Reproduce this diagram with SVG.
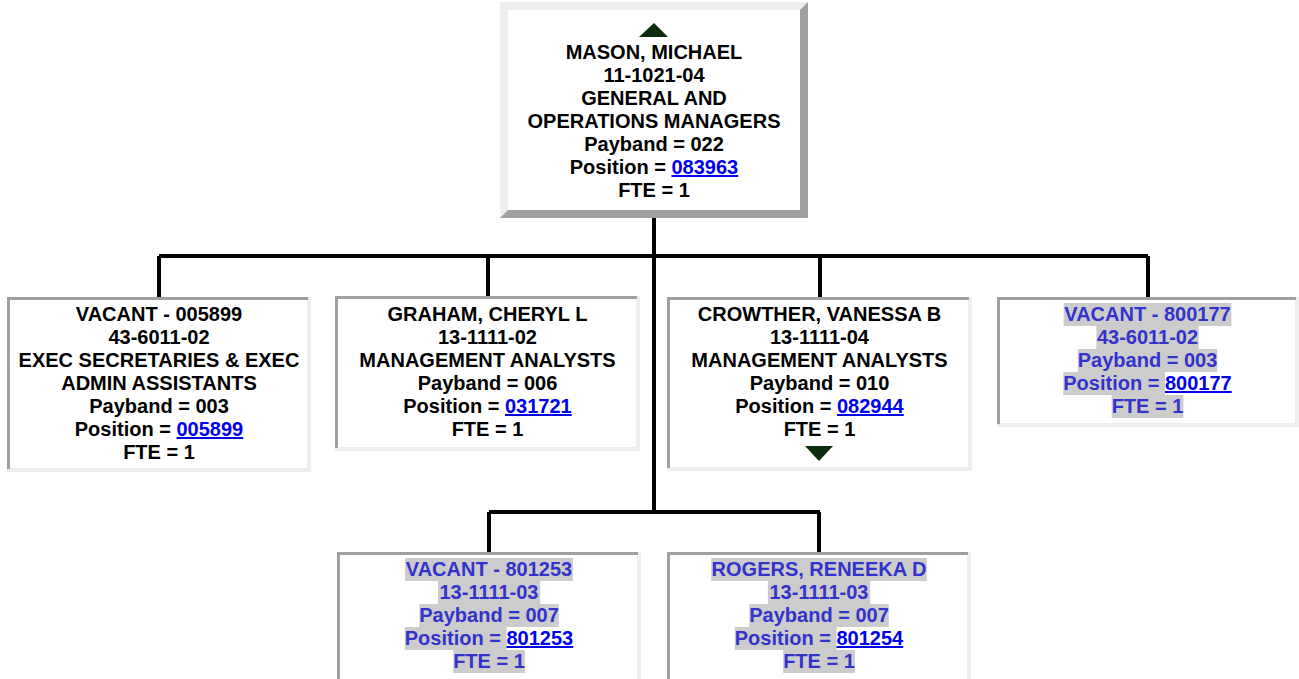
<svg xmlns="http://www.w3.org/2000/svg" width="1299" height="679" viewBox="0 0 1299 679">
<style>
text{font-family:"Liberation Sans",Arial,sans-serif;font-weight:bold;font-size:20px;text-anchor:middle}
.k{fill:#000}
.v{fill:#3333cc}
.lnk{fill:#0000ee;text-decoration:underline}
.hl{fill:#cccccc}
.lite{fill:#eeeeee}
.dark{fill:#a0a0a0}
.inner{fill:#ffffff}
.tri{fill:#0d2b0d}
.conn{stroke:#000;stroke-width:4;fill:none}
</style>
<rect width="1299" height="679" fill="#fff"/>
<g id="connectors">
<path class="conn" d="M654 218V512"/>
<path class="conn" d="M159 256H1148"/>
<path class="conn" d="M159 256V297M488 256V297M820 256V297M1148 256V297"/>
<path class="conn" d="M489 512H820"/>
<path class="conn" d="M489 512V552M819 512V552"/>
</g>
<g id="mason">
<polygon class="lite" points="500,2 808,2 800,10 508,10 508,210 500,218"/>
<polygon class="dark" points="808,2 808,218 500,218 508,210 800,210 800,10"/>
<rect class="inner" x="508" y="10" width="292" height="200"/>
<polygon class="tri" points="654,23 668,37 639,37"/>
<text class="k" x="654" y="59">MASON, MICHAEL</text>
<text class="k" x="654" y="82">11-1021-04</text>
<text class="k" x="654" y="105">GENERAL AND</text>
<text class="k" x="654" y="128">OPERATIONS MANAGERS</text>
<text class="k" x="654" y="151">Payband = 022</text>
<text class="k" x="654" y="174">Position = <tspan class="lnk">083963</tspan></text>
<text class="k" x="654" y="197">FTE = 1</text>
</g>
<g id="vacant005899">
<rect class="lite" x="7" y="297" width="304" height="175"/>
<rect class="dark" x="7" y="297" width="301" height="3"/>
<rect class="dark" x="7" y="297" width="3" height="172"/>
<rect class="inner" x="10" y="300" width="297" height="168"/>
<text class="k" x="159" y="321">VACANT - 005899</text>
<text class="k" x="159" y="344">43-6011-02</text>
<text class="k" x="159" y="367">EXEC SECRETARIES &amp; EXEC</text>
<text class="k" x="159" y="390">ADMIN ASSISTANTS</text>
<text class="k" x="159" y="413">Payband = 003</text>
<text class="k" x="159" y="436">Position = <tspan class="lnk">005899</tspan></text>
<text class="k" x="159" y="459">FTE = 1</text>
</g>
<g id="graham">
<rect class="lite" x="335" y="296" width="305" height="155"/>
<rect class="dark" x="335" y="296" width="302" height="3"/>
<rect class="dark" x="335" y="296" width="3" height="152"/>
<rect class="inner" x="338" y="299" width="298" height="148"/>
<text class="k" x="487.5" y="321">GRAHAM, CHERYL L</text>
<text class="k" x="487.5" y="344">13-1111-02</text>
<text class="k" x="487.5" y="367">MANAGEMENT ANALYSTS</text>
<text class="k" x="487.5" y="390">Payband = 006</text>
<text class="k" x="487.5" y="413">Position = <tspan class="lnk">031721</tspan></text>
<text class="k" x="487.5" y="436">FTE = 1</text>
</g>
<g id="crowther">
<rect class="lite" x="667" y="297" width="305" height="174"/>
<rect class="dark" x="667" y="297" width="302" height="3"/>
<rect class="dark" x="667" y="297" width="3" height="171"/>
<rect class="inner" x="670" y="300" width="298" height="167"/>
<text class="k" x="819.5" y="321">CROWTHER, VANESSA B</text>
<text class="k" x="819.5" y="344">13-1111-04</text>
<text class="k" x="819.5" y="367">MANAGEMENT ANALYSTS</text>
<text class="k" x="819.5" y="390">Payband = 010</text>
<text class="k" x="819.5" y="413">Position = <tspan class="lnk">082944</tspan></text>
<text class="k" x="819.5" y="436">FTE = 1</text>
<polygon class="tri" points="805,446 833,446 819,461"/>
</g>
<g id="vacant800177">
<rect class="lite" x="997" y="297" width="302" height="130"/>
<rect class="dark" x="997" y="297" width="299" height="3"/>
<rect class="dark" x="997" y="297" width="3" height="127"/>
<rect class="inner" x="1000" y="300" width="295" height="123"/>
<rect class="hl" x="1063.6" y="303" width="167.8" height="23"/>
<rect class="hl" x="1096.4" y="326" width="102.3" height="23"/>
<rect class="hl" x="1077.8" y="349" width="139.5" height="23"/>
<rect class="hl" x="1063.3" y="372" width="101.7" height="23"/>
<rect class="hl" x="1111.7" y="395" width="71.7" height="23"/>
<text class="v" x="1147.5" y="321">VACANT - 800177</text>
<text class="v" x="1147.5" y="344">43-6011-02</text>
<text class="v" x="1147.5" y="367">Payband = 003</text>
<text class="v" x="1147.5" y="390">Position = <tspan class="lnk">800177</tspan></text>
<text class="v" x="1147.5" y="413">FTE = 1</text>
</g>
<g id="vacant801253">
<rect class="lite" x="337" y="552" width="304" height="127"/>
<rect class="dark" x="337" y="552" width="301" height="3"/>
<rect class="dark" x="337" y="552" width="3" height="127"/>
<rect class="inner" x="340" y="555" width="297" height="124"/>
<rect class="hl" x="405.1" y="558" width="167.8" height="23"/>
<rect class="hl" x="437.9" y="581" width="102.3" height="23"/>
<rect class="hl" x="419.3" y="604" width="139.5" height="23"/>
<rect class="hl" x="404.8" y="627" width="101.7" height="23"/>
<rect class="hl" x="453.2" y="650" width="71.7" height="23"/>
<text class="v" x="489" y="576">VACANT - 801253</text>
<text class="v" x="489" y="599">13-1111-03</text>
<text class="v" x="489" y="622">Payband = 007</text>
<text class="v" x="489" y="645">Position = <tspan class="lnk">801253</tspan></text>
<text class="v" x="489" y="668">FTE = 1</text>
</g>
<g id="rogers">
<rect class="lite" x="667" y="552" width="304" height="127"/>
<rect class="dark" x="667" y="552" width="301" height="3"/>
<rect class="dark" x="667" y="552" width="3" height="127"/>
<rect class="inner" x="670" y="555" width="297" height="124"/>
<rect class="hl" x="711.2" y="558" width="215.6" height="23"/>
<rect class="hl" x="767.9" y="581" width="102.3" height="23"/>
<rect class="hl" x="749.3" y="604" width="139.5" height="23"/>
<rect class="hl" x="734.8" y="627" width="101.7" height="23"/>
<rect class="hl" x="783.2" y="650" width="71.7" height="23"/>
<text class="v" x="819" y="576">ROGERS, RENEEKA D</text>
<text class="v" x="819" y="599">13-1111-03</text>
<text class="v" x="819" y="622">Payband = 007</text>
<text class="v" x="819" y="645">Position = <tspan class="lnk">801254</tspan></text>
<text class="v" x="819" y="668">FTE = 1</text>
</g>
</svg>
